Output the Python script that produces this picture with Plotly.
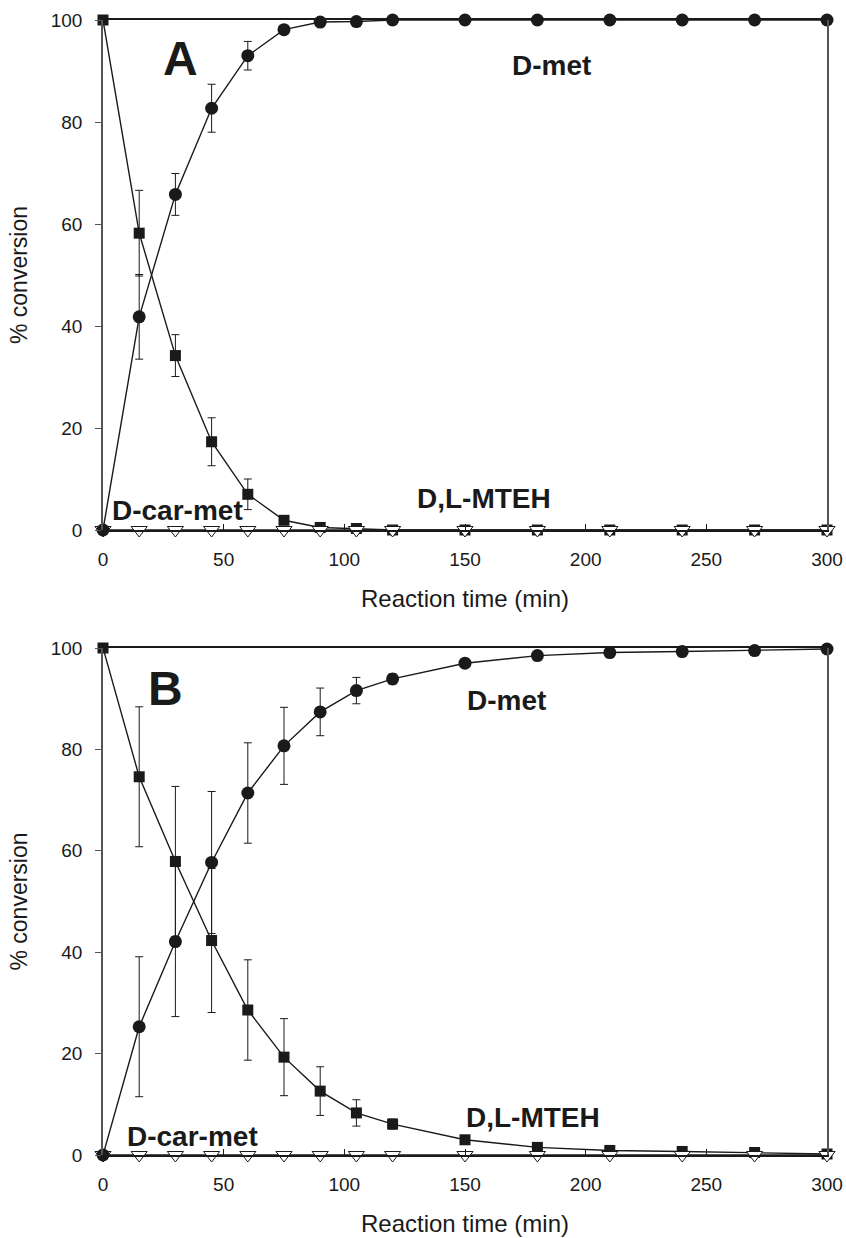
import plotly.graph_objects as go
from plotly.subplots import make_subplots

time = [0, 15, 30, 45, 60, 75, 90, 105, 120, 150, 180, 210, 240, 270, 300]

# Panel A
dmet_A = [0, 41.8, 65.8, 82.7, 93.0, 98.1, 99.6, 99.7, 100, 100, 100, 100, 100, 100, 100]
dmet_A_err = [0, 8.3, 4.1, 4.7, 2.8, 0.5, 0.3, 0.2, 0, 0, 0, 0, 0, 0, 0]
mteh_A = [100, 58.2, 34.2, 17.3, 7.0, 1.9, 0.5, 0.3, 0, 0, 0, 0, 0, 0, 0]
mteh_A_err = [0, 8.4, 4.1, 4.7, 3.0, 0.5, 0.3, 0.2, 0, 0, 0, 0, 0, 0, 0]
dcar_A = [0, 0, 0, 0, 0, 0, 0, 0, 0, 0, 0, 0, 0, 0, 0]

# Panel B
dmet_B = [0, 25.3, 42.1, 57.7, 71.4, 80.7, 87.4, 91.6, 93.9, 97.0, 98.5, 99.1, 99.3, 99.5, 99.8]
dmet_B_err = [0, 13.8, 14.8, 14.0, 9.9, 7.6, 4.7, 2.6, 1.0, 0.5, 0.4, 0.3, 0.2, 0.2, 0.1]
mteh_B = [100, 74.6, 57.9, 42.3, 28.6, 19.3, 12.6, 8.3, 6.1, 3.0, 1.5, 0.9, 0.7, 0.5, 0.2]
mteh_B_err = [0, 13.8, 14.8, 14.2, 9.9, 7.6, 4.8, 2.6, 1.0, 0.5, 0.4, 0.3, 0.2, 0.2, 0.1]
dcar_B = [0, 0, 0, 0, 0, 0, 0, 0, 0, 0, 0, 0, 0, 0, 0]

x_ticks = [0, 50, 100, 150, 200, 250, 300]
y_ticks = [0, 20, 40, 60, 80, 100]

FONT = "Liberation Sans, Arial, sans-serif"
INK = "#1a1a1a"

fig = make_subplots(rows=2, cols=1, vertical_spacing=0.1)

def add_panel(row, dmet, dmet_err, mteh, mteh_err, dcar):
    fig.add_trace(go.Scatter(
        x=time, y=mteh, mode="lines+markers",
        line=dict(color=INK, width=1.4),
        marker=dict(symbol="square", size=11, color=INK),
        error_y=dict(type="data", array=mteh_err, color=INK, thickness=1, width=4),
        cliponaxis=False, showlegend=False), row=row, col=1)
    fig.add_trace(go.Scatter(
        x=time, y=dcar, mode="lines+markers",
        line=dict(color=INK, width=1.4),
        marker=dict(symbol="triangle-down", size=14, color="white",
                    line=dict(color=INK, width=1)),
        cliponaxis=False, showlegend=False), row=row, col=1)
    fig.add_trace(go.Scatter(
        x=time, y=dmet, mode="lines+markers",
        line=dict(color=INK, width=1.4),
        marker=dict(symbol="circle", size=13, color=INK),
        error_y=dict(type="data", array=dmet_err, color=INK, thickness=1, width=4),
        cliponaxis=False, showlegend=False), row=row, col=1)

add_panel(1, dmet_A, dmet_A_err, mteh_A, mteh_A_err, dcar_A)
add_panel(2, dmet_B, dmet_B_err, mteh_B, mteh_B_err, dcar_B)

axis_x = dict(range=[0, 300], tickvals=x_ticks, ticks="inside", ticklen=6,
              tickcolor=INK, showline=True, linecolor=INK, linewidth=1.5, mirror=True,
              showgrid=False, zeroline=False, tickfont=dict(family=FONT, size=19, color=INK),
              ticklabelstandoff=11, automargin=False,
              title=dict(text="Reaction time (min)", font=dict(family=FONT, size=24, color=INK),
                         standoff=22))
axis_y = dict(range=[0, 100], tickvals=y_ticks, ticks="outside", ticklen=6,
              tickcolor="#555", showline=True, linecolor="#555", linewidth=1.5, mirror=True,
              showgrid=False, zeroline=False, tickfont=dict(family=FONT, size=19, color=INK),
              ticklabelstandoff=9, automargin=False,
              title=dict(text="% conversion", font=dict(family=FONT, size=23, color=INK),
                         standoff=17))

fig.update_xaxes(**axis_x)
fig.update_yaxes(**axis_y)

H = 1238
t, b = 20, 83
ph = H - t - b
fig.update_layout(
    width=846, height=H,
    margin=dict(l=103, r=19, t=t, b=b),
    plot_bgcolor="white", paper_bgcolor="white",
    font=dict(family=FONT),
)
fig.layout.yaxis.domain = [(1155 - 530) / ph, 1.0]
fig.layout.yaxis2.domain = [0.0, (1155 - 648) / ph]

labels = [
    ("x", "y", 32, 92.5, "A", 48),
    ("x", "y", 186, 91, "D-met", 28),
    ("x", "y", 31, 3.8, "D-car-met", 28),
    ("x", "y", 158, 6.2, "D,L-MTEH", 28),
    ("x2", "y2", 25.7, 92, "B", 48),
    ("x2", "y2", 167, 89.7, "D-met", 28),
    ("x2", "y2", 37, 3.7, "D-car-met", 28),
    ("x2", "y2", 178, 7.4, "D,L-MTEH", 28),
]
for xr, yr, xv, yv, txt, sz in labels:
    fig.add_annotation(x=xv, y=yv, xref=xr, yref=yr, text=f"<b>{txt}</b>",
                       showarrow=False, font=dict(family=FONT, size=sz, color=INK))

fig.write_html("out.html")
